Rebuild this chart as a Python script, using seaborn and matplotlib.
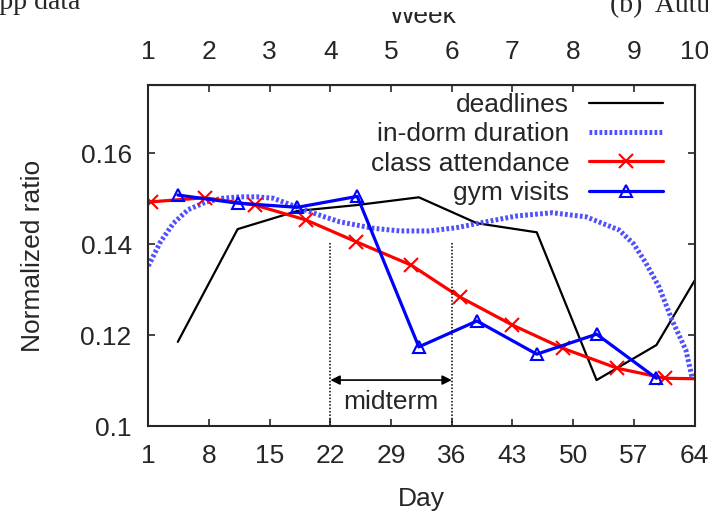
import matplotlib
matplotlib.use('Agg')
import matplotlib.pyplot as plt
from matplotlib.patches import Rectangle
import seaborn as sns

# weekly points (deadlines, gym visits)
dias_deadlines = [4.4, 11.3, 18.2, 25.1, 32.2, 38.9, 45.8, 52.7, 59.6, 66.5]
deadlines = [0.1185, 0.1433, 0.1473, 0.1486, 0.1503, 0.1446, 0.1426, 0.1101, 0.1178, 0.1400]

dias_gym = [4.4, 11.3, 18.2, 25.1, 32.2, 38.9, 45.8, 52.7, 59.6]
gym = [0.1508, 0.1490, 0.1481, 0.1505, 0.1174, 0.1231, 0.1158, 0.1202, 0.1105]

# smoothed curves
dias_clase = [1.3, 7.5, 13.3, 19.2, 25.0, 31.3, 36.9, 43.0, 48.8, 55.1, 60.6, 64.0]
clase = [0.1493, 0.1502, 0.1486, 0.1453, 0.1405, 0.1354, 0.1284, 0.1222, 0.1171, 0.1127, 0.1105, 0.1104]

dias_dorm = [1.0, 2.4, 3.9, 5.6, 7.7, 9.6, 11.6, 13.5, 15.4, 18.5, 21.0, 23.1, 26.9, 30.0,
             33.4, 36.5, 39.9, 43.5, 47.6, 51.5, 55.3, 57.0, 58.4, 59.9, 61.4, 63.0, 63.7]
dorm = [0.1352, 0.1405, 0.1446, 0.1476, 0.1493, 0.1501, 0.1504, 0.1504, 0.1501, 0.1479,
        0.1462, 0.1449, 0.1435, 0.1429, 0.1429, 0.1436, 0.1449, 0.1462, 0.1469, 0.1460,
        0.1431, 0.1400, 0.1358, 0.1306, 0.1233, 0.1167, 0.1108]

midterm = [22, 36]
dias_ticks = [1, 8, 15, 22, 29, 36, 43, 50, 57, 64]
semanas = list(range(1, 11))
y_ticks = [0.1, 0.12, 0.14, 0.16]
y_labels = ['0.1', '0.12', '0.14', '0.16']

sns.set_style('ticks')
plt.rcParams['font.family'] = ['Liberation Sans', 'DejaVu Sans']
fs = 19

fig = plt.figure(figsize=(7.08, 5.16), dpi=100)
ax = fig.add_axes([0.2095, 0.1744, 0.7715, 0.6609])

sns.lineplot(x=dias_deadlines, y=deadlines, color='black', linewidth=1.6,
             linestyle='-', label='deadlines', ax=ax)
sns.lineplot(x=dias_dorm, y=dorm, color='#5050ff', linewidth=3.6,
             linestyle=(0, (0.55, 0.45)), label='in-dorm duration', ax=ax)
sns.lineplot(x=dias_clase, y=clase, color='red', linewidth=2.3, linestyle='-',
             marker='x', markersize=10, markeredgewidth=1.5, markeredgecolor='red',
             markevery=list(range(11)), label='class attendance', ax=ax)
sns.lineplot(x=dias_gym, y=gym, color='blue', linewidth=2.3, linestyle='-',
             marker='^', markersize=9, markerfacecolor='none', markeredgecolor='blue',
             markeredgewidth=1.5, label='gym visits', ax=ax)

# midterm period
ax.vlines(midterm, 0.1, 0.1405, colors='black', linestyles=(0, (1, 1.2)), linewidth=1.1)
ax.annotate('', xy=(midterm[0], 0.1101), xytext=(midterm[1], 0.1101),
            arrowprops=dict(arrowstyle='<|-|>', color='black', lw=1.2,
                            shrinkA=0, shrinkB=0, mutation_scale=14))
ax.text(sum(midterm) / 2, 0.1052, 'midterm', ha='center', va='center', fontsize=fs)

ax.set_xlim(1, 64)
ax.set_ylim(0.1, 0.175)
ax.set_xticks(dias_ticks)
ax.set_yticks(y_ticks)
ax.set_yticklabels(y_labels)
ax.tick_params(direction='in', length=5, width=1.2, labelsize=fs, right=True, top=False)
ax.tick_params(axis='y', pad=12)
ax.tick_params(axis='x', pad=13)
for s in ax.spines.values():
    s.set_linewidth(1.5)
    s.set_visible(True)

ax.set_xlabel('Day', fontsize=fs)
ax.xaxis.set_label_coords(0.5, -0.18)
ax.set_ylabel('Normalized ratio', fontsize=fs)
ax.yaxis.set_label_coords(-0.19, 0.5)

sec = ax.secondary_xaxis('top', functions=(lambda d: (d - 1) / 7 + 1, lambda w: (w - 1) * 7 + 1))
sec.set_xticks(semanas)
sec.tick_params(direction='in', length=5, width=1.2, labelsize=fs, pad=15)

ax.legend(loc='upper right', bbox_to_anchor=(0.942, 0.976), markerfirst=False,
          frameon=False, fontsize=fs, handlelength=2.8, handletextpad=0.75,
          labelspacing=0.2, borderaxespad=0, borderpad=0)

# top axis title, partly hidden by the caption strip of the page
fig.text(423 / 708, 1 - 23 / 516, 'Week', ha='center', va='baseline', fontsize=fs)
fig.patches.append(Rectangle((0, 1 - 12 / 516), 1, 12 / 516, transform=fig.transFigure,
                             facecolor='white', edgecolor='none', zorder=5))
fig.text(80 / 708, 1 - 9 / 516, 'app data', ha='right', va='baseline',
         family='Liberation Serif', fontsize=20, zorder=6)
fig.text(610 / 708, 1 - 12 / 516, '(b)  Autumn', ha='left', va='baseline',
         family='Liberation Serif', fontsize=20, zorder=6)

fig.savefig('out.png', dpi=100)
